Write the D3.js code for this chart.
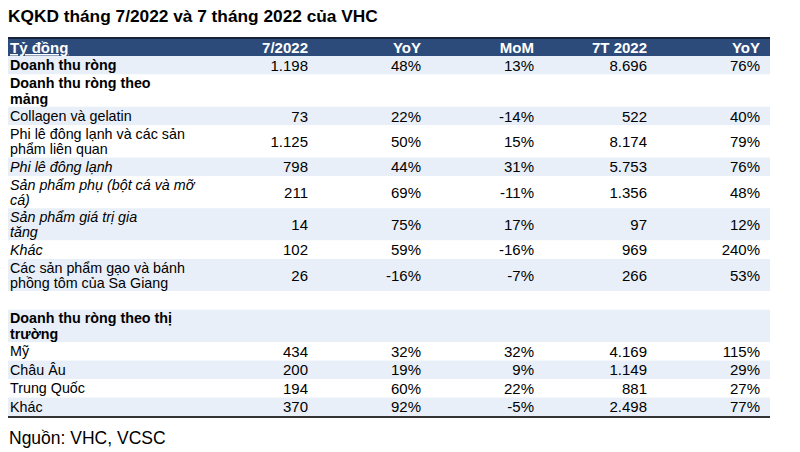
<!DOCTYPE html>
<html>
<head>
<meta charset="utf-8">
<script src="https://cdn.jsdelivr.net/npm/d3@7"></script>
<style>
  html, body { margin: 0; padding: 0; background: #ffffff; }
  svg text { font-family: Arial, "Liberation Sans", Helvetica, sans-serif; fill: #000; }
</style>
</head>
<body>
<svg id="chart" width="800" height="452"></svg>
<script>
// ---- data ----
const title = "KQKD tháng 7/2022 và 7 tháng 2022 của VHC";
const source = "Nguồn: VHC, VCSC";
const unitLabel = "Tỷ đồng";
const columns = ["7/2022", "YoY", "MoM", "7T 2022", "YoY"];
const labels = [
  "Doanh thu ròng",
  "Doanh thu ròng theo\nmảng",
  "Collagen và gelatin",
  "Phi lê đông lạnh và các sản\nphẩm liên quan",
  "Phi lê đông lạnh",
  "Sản phẩm phụ (bột cá và mỡ\ncá)",
  "Sản phẩm giá trị gia\ntăng",
  "Khác",
  "Các sản phẩm gạo và bánh\nphồng tôm của Sa Giang",
  "",
  "Doanh thu ròng theo thị\ntrường",
  "Mỹ",
  "Châu Âu",
  "Trung Quốc",
  "Khác"
];
// row kind: total / group heading / item / sub-item / spacer
const rowKinds = ["total","group","item","item","sub","sub","sub","sub","item","spacer","group","item","item","item","item"];
const month2022 = ["1.198", "", "73", "1.125", "798", "211", "14", "102", "26", "", "", "434", "200", "194", "370"];
const monthYoY  = ["48%", "", "22%", "50%", "44%", "69%", "75%", "59%", "-16%", "", "", "32%", "19%", "60%", "92%"];
const monthMoM  = ["13%", "", "-14%", "15%", "31%", "-11%", "17%", "-16%", "-7%", "", "", "32%", "9%", "22%", "-5%"];
const ytd2022   = ["8.696", "", "522", "8.174", "5.753", "1.356", "97", "969", "266", "", "", "4.169", "1.149", "881", "2.498"];
const ytdYoY    = ["76%", "", "40%", "79%", "76%", "48%", "12%", "240%", "53%", "", "", "115%", "29%", "27%", "77%"];

// ---- layout ----
const svg = d3.select("#chart");
const tableLeft = 8, tableRight = 770;
const headerTop = 37, headerBottom = 56;
const singleH = 18.5, doubleH = 32.25, lineGap = 15.5;
const blue = "#2d4b7a", light = "#e9eff8";

const columnValues = [month2022, monthYoY, monthMoM, ytd2022, ytdYoY];

const rows = labels.map((lab, i) => ({
  lines: lab === "" ? [""] : lab.split("\n"),
  kind: rowKinds[i],
  values: columnValues.map(c => c[i])
}));
const heights = rows.map(r => r.lines.length > 1 ? doubleH : singleH);
const tops = [headerBottom, ...d3.cumsum(heights).map(v => headerBottom + v)];
const tableBottom = tops[rows.length];

const x = d3.scalePoint().domain(d3.range(columns.length)).range([308, 760]);

// title
svg.append("text")
  .attr("x", 8).attr("y", 21.5)
  .style("font-size", "17.3px").style("font-weight", "bold")
  .text(title);

// header band
svg.append("rect").attr("x", tableLeft).attr("y", headerTop)
  .attr("width", tableRight - tableLeft).attr("height", headerBottom - headerTop)
  .attr("fill", blue);
svg.append("rect").attr("x", tableLeft).attr("y", headerTop)
  .attr("width", tableRight - tableLeft).attr("height", 2)
  .attr("fill", "#18233a");

svg.append("text")
  .attr("x", 10).attr("y", 53)
  .style("font-size", "15px").style("font-weight", "bold")
  .style("fill", "#fff").style("text-decoration", "underline")
  .text(unitLabel);

svg.selectAll("text.colhead").data(columns).join("text")
  .attr("class", "colhead")
  .attr("x", (d, i) => x(i)).attr("y", 53)
  .attr("text-anchor", "end")
  .style("font-size", "15px").style("font-weight", "bold")
  .style("fill", "#fff")
  .text(d => d);

// row bands
const g = svg.selectAll("g.row").data(rows).join("g").attr("class", "row")
  .attr("transform", (d, i) => `translate(0,${tops[i]})`);

g.append("rect")
  .attr("x", tableLeft).attr("y", 0)
  .attr("width", tableRight - tableLeft)
  .attr("height", (d, i) => heights[i])
  .attr("fill", (d, i) => i % 2 === 0 ? light : "#fff");

g.each(function(d, i) {
  const sel = d3.select(this);
  const h = heights[i];
  const mid = h / 2;
  const n = d.lines.length;
  const t = sel.append("text")
    .attr("x", 10)
    .style("font-size", "14.3px")
    .style("font-weight", (d.kind === "total" || d.kind === "group") ? "bold" : "normal")
    .style("font-style", d.kind === "sub" ? "italic" : "normal");
  d.lines.forEach((ln, k) => {
    t.append("tspan")
      .attr("x", 10)
      .attr("y", mid + 5.2 + (k - (n - 1) / 2) * lineGap)
      .text(ln);
  });
  sel.selectAll("text.val").data(d.values).join("text")
    .attr("class", "val")
    .attr("x", (v, j) => x(j))
    .attr("y", mid + 5.5)
    .attr("text-anchor", "end")
    .style("font-size", "15px")
    .text(v => v);
});

// bottom rule
svg.append("rect").attr("x", tableLeft).attr("y", tableBottom)
  .attr("width", tableRight - tableLeft).attr("height", 2)
  .attr("fill", "#333");

// source
svg.append("text")
  .attr("x", 9).attr("y", 444)
  .style("font-size", "17.5px")
  .text(source);
</script>
</body>
</html>
